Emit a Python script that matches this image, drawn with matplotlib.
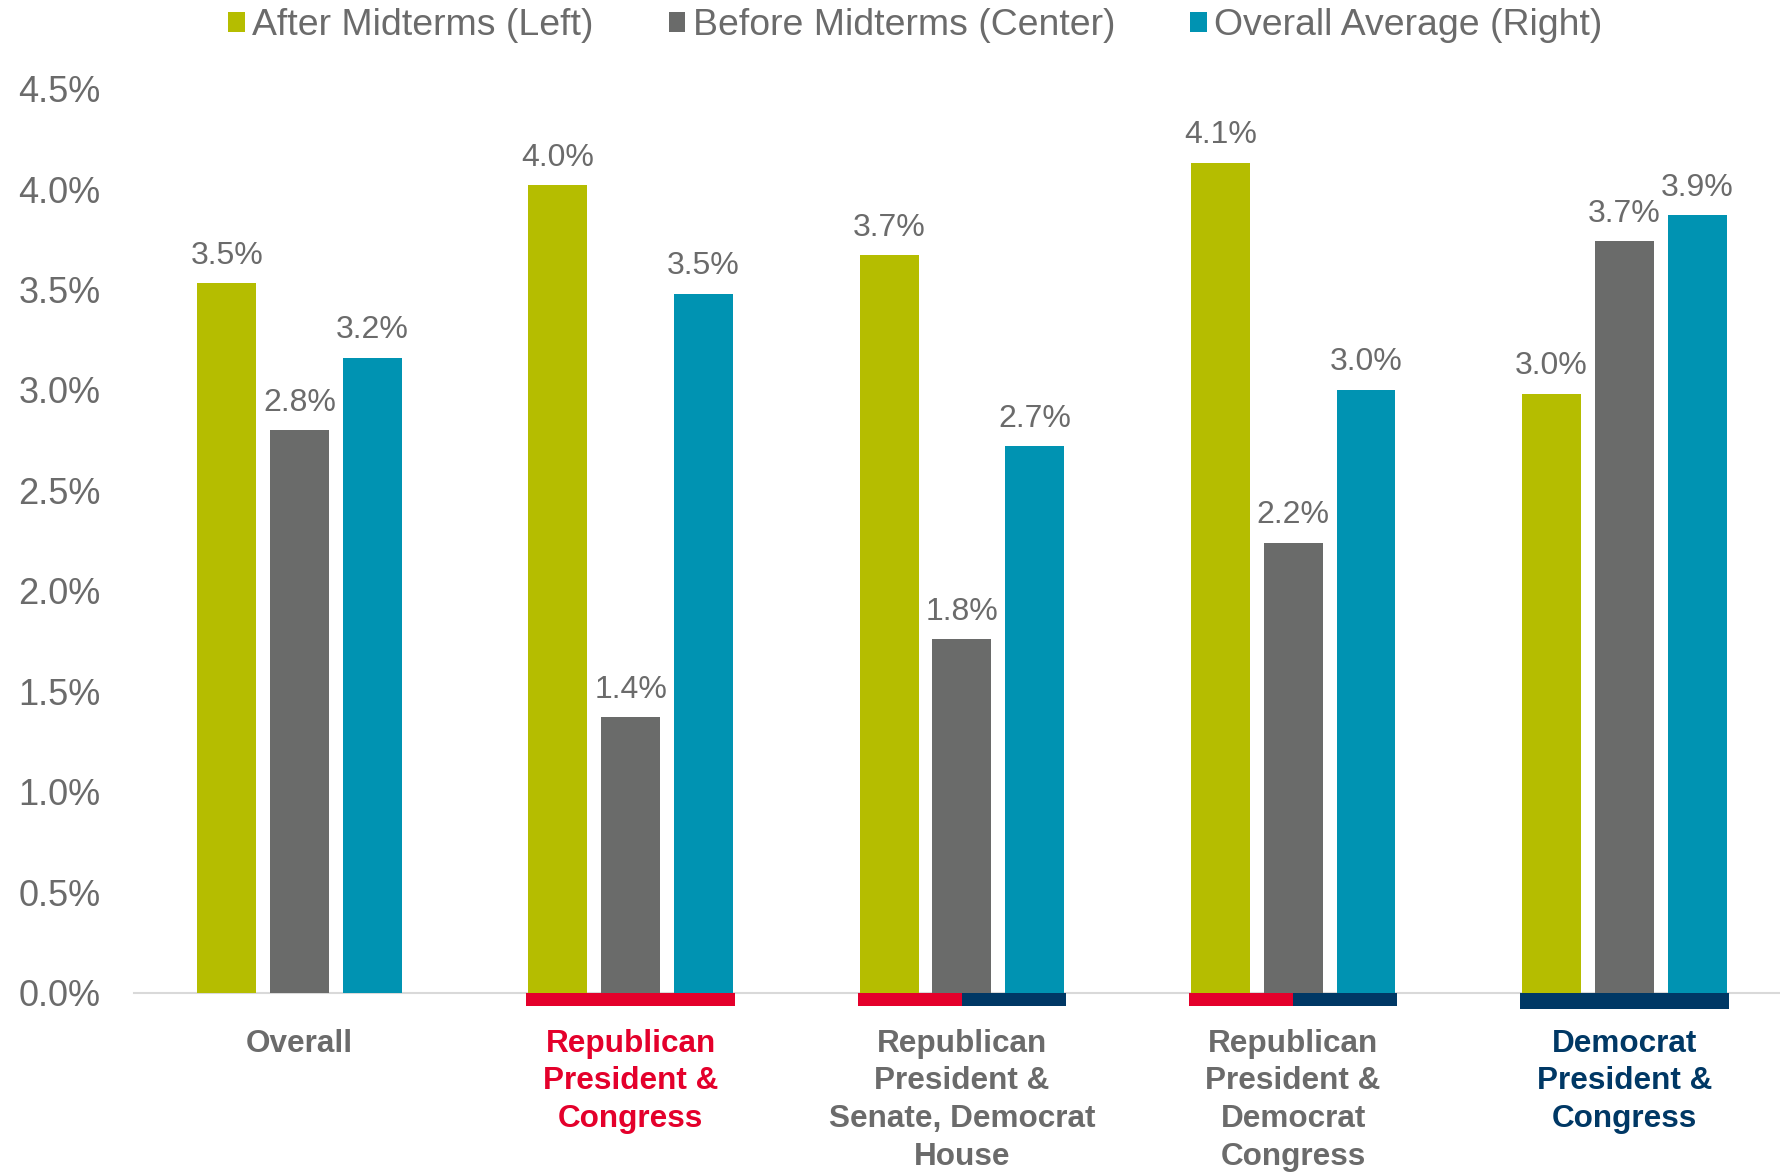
import numpy as np
import matplotlib
matplotlib.use("Agg")
import matplotlib.pyplot as plt
from matplotlib.ticker import FuncFormatter

plt.rcParams['font.family'] = ['Liberation Sans', 'DejaVu Sans']

# data
categories = ["Overall",
              "Republican\nPresident &\nCongress",
              "Republican\nPresident &\nSenate, Democrat\nHouse",
              "Republican\nPresident &\nDemocrat\nCongress",
              "Democrat\nPresident &\nCongress"]
after_midterms = [3.53, 4.02, 3.67, 4.13, 2.98]
before_midterms = [2.80, 1.37, 1.76, 2.24, 3.74]
overall_average = [3.16, 3.48, 2.72, 3.00, 3.87]
series_names = ["After Midterms (Left)", "Before Midterms (Center)", "Overall Average (Right)"]
# party strip under each group: (left half, right half), None = no strip
party_strips = [None, ("rep", "rep"), ("rep", "dem"), ("rep", "dem"), ("dem", "dem")]
label_colors = ["gray", "rep", "gray", "gray", "dem"]

GREEN = "#B5BD00"
GRAY = "#6A6B6A"
TEAL = "#0093B2"
RED = "#E4002B"
NAVY = "#003865"
TEXT = "#6B6B6B"
palette = {"rep": RED, "dem": NAVY, "gray": TEXT}

fig = plt.figure(figsize=(17.81, 11.73), dpi=100)
ax = fig.add_axes([134 / 1781, 1 - 992.7 / 1173, 1 - 134 / 1781, (992.7 - 88.6) / 1173])

x = np.arange(len(categories))
width = 0.178
offset = 0.22
series = [after_midterms, before_midterms, overall_average]
colors = [GREEN, GRAY, TEAL]

for i, (vals, col, name) in enumerate(zip(series, colors, series_names)):
    xs = x + (i - 1) * offset
    bars = ax.bar(xs, vals, width, color=col, label=name, zorder=3)
    for b, v in zip(bars, vals):
        ax.annotate(f"{v:.1f}%", (b.get_x() + b.get_width() / 2, v),
                    xytext=(0, 9), textcoords="offset points",
                    ha="center", va="bottom", fontsize=23, color=TEXT)

# party colour strips below the axis
half = 0.315
strip_h = 0.068
for xi, strip in zip(x, party_strips):
    if strip is None:
        continue
    left, right = strip
    h = strip_h * 1.2 if strip == ("dem", "dem") else strip_h
    ax.bar(xi - half / 2, -h, half, align="center", color=palette[left],
           clip_on=False, zorder=4)
    ax.bar(xi + half / 2, -h, half, align="center", color=palette[right],
           clip_on=False, zorder=4)

ax.set_xlim(-0.5, 4.473)
ax.set_ylim(0, 4.5)
ax.set_yticks(np.arange(0, 4.51, 0.5))
ax.yaxis.set_major_formatter(FuncFormatter(lambda v, p: f"{v:.1f}%"))
ax.tick_params(axis="y", length=0, pad=24, labelsize=26, labelcolor=TEXT)

ax.set_xticks(x)
ax.set_xticklabels(categories, fontsize=22.7, fontweight="bold", linespacing=1.33)
ax.tick_params(axis="x", length=0, pad=26)
for lbl, c in zip(ax.get_xticklabels(), label_colors):
    lbl.set_color(palette[c])

for s in ["top", "right", "left"]:
    ax.spines[s].set_visible(False)
ax.spines["bottom"].set_color("#D9D9D9")
ax.spines["bottom"].set_linewidth(1.5)
ax.spines["bottom"].set_zorder(2)

fig.legend(loc="center", bbox_to_anchor=(0.514, 0.978), ncol=3, frameon=False,
           fontsize=26.9, labelcolor=TEXT, handlelength=0.45, handleheight=0.45,
           handletextpad=0.2, columnspacing=2.0, borderaxespad=0)

fig.savefig("out.png", dpi=100)
